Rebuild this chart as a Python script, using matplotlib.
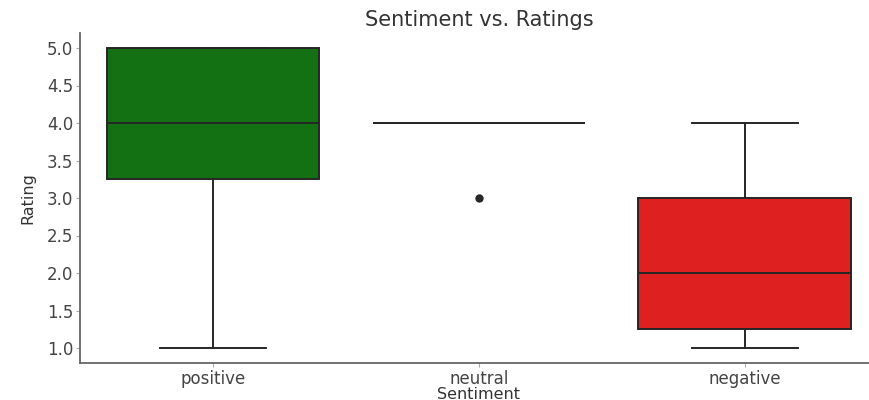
import matplotlib
matplotlib.use("Agg")
import matplotlib.pyplot as plt

# box statistics
sentiments = ["positive", "neutral", "negative"]
q1 = [3.25, 4.0, 1.25]
medians = [4.0, 4.0, 2.0]
q3 = [5.0, 4.0, 3.0]
whisker_low = [1.0, 4.0, 1.0]
whisker_high = [5.0, 4.0, 4.0]
outliers = [[], [3.0], []]
colors = ["#137013", "#808080", "#df2020"]

stats = []
for i, name in enumerate(sentiments):
    stats.append({
        "label": name,
        "q1": q1[i],
        "med": medians[i],
        "q3": q3[i],
        "whislo": whisker_low[i],
        "whishi": whisker_high[i],
        "fliers": outliers[i],
    })

fig = plt.figure(figsize=(8.7, 4.0), dpi=100)
ax = fig.add_axes([0.092, 0.0925, 0.917, 0.825])

line_col = "#262626"
bp = ax.bxp(stats, positions=range(len(sentiments)), widths=0.8,
            patch_artist=True,
            boxprops=dict(edgecolor=line_col, linewidth=1.4),
            medianprops=dict(color=line_col, linewidth=1.4),
            whiskerprops=dict(color=line_col, linewidth=1.4),
            capprops=dict(color=line_col, linewidth=1.4),
            capwidths=0.4,
            flierprops=dict(marker="o", markerfacecolor=line_col,
                            markeredgecolor=line_col, markersize=5))
for patch, c in zip(bp["boxes"], colors):
    patch.set_facecolor(c)

ax.set_xlim(-0.5, 2.5)
ax.set_ylim(0.8, 5.2)
ax.set_yticks([1.0, 1.5, 2.0, 2.5, 3.0, 3.5, 4.0, 4.5, 5.0])
ax.set_xticks(range(len(sentiments)))
ax.set_xticklabels(sentiments)

for s in ["top", "right"]:
    ax.spines[s].set_visible(False)
for s in ["left", "bottom"]:
    ax.spines[s].set_color("#666666")
    ax.spines[s].set_linewidth(1.3)
ax.tick_params(colors="#aaaaaa", labelcolor="#444444", labelsize=12,
               length=3, pad=2)

ax.set_title("Sentiment vs. Ratings", fontsize=15, color="#333333", pad=5)
ax.set_xlabel("Sentiment", fontsize=11.5, color="#333333", labelpad=-1)
ax.set_ylabel("Rating", fontsize=11.5, color="#333333", labelpad=8)

fig.savefig("out.png", dpi=100)
